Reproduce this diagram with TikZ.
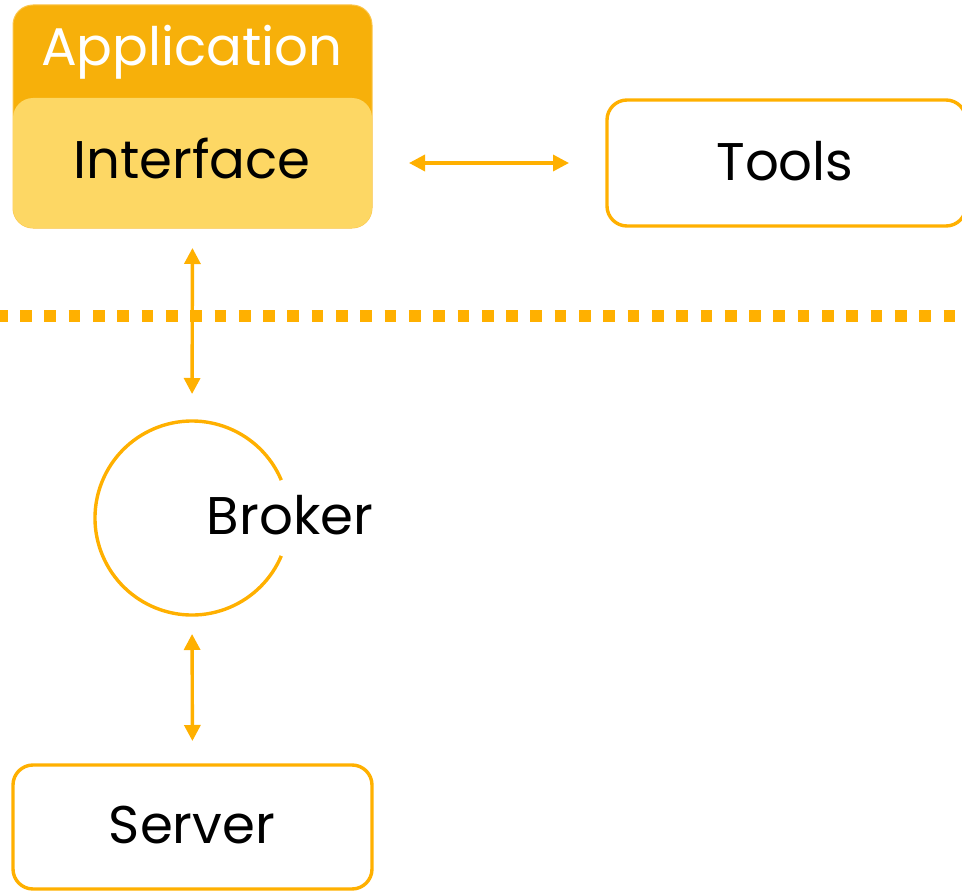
\documentclass[tikz,border=0pt]{standalone}
\usepackage{fontspec}
\setmainfont{Poppins}
\usetikzlibrary{arrows.meta}
\definecolor{appdark}{HTML}{F7B00A}
\definecolor{appborder}{HTML}{FBC54A}
\definecolor{ifacelight}{HTML}{FDD764}
\definecolor{orng}{HTML}{FFB000}
\tikzset{
  boxnode/.style={draw=orng, line width=3.4pt, rounded corners=20pt, fill=white, outer sep=0pt,
    minimum width=359pt, minimum height=126pt, inner sep=0pt},
  conn/.style={draw=orng, line width=3.4pt, {Triangle[length=16pt,width=16pt]}-{Triangle[length=16pt,width=16pt]}},
  lbl/.style={font=\fontsize{53}{60}\selectfont, inner sep=0pt}
}
\begin{document}
\begin{tikzpicture}[x=1pt,y=-1pt]
\useasboundingbox (0,0) rectangle (962,891);
% Application / Interface block
\node[draw=appborder, line width=1pt, fill=appdark, rounded corners=20pt, outer sep=0pt,
      minimum width=359pt, minimum height=223pt, inner sep=0pt, anchor=north west] (app) at (13,5) {};
\node[lbl, text=white, anchor=base] (apptext) at (192,66) {Application};
\node[fill=ifacelight, rounded corners=20pt, minimum width=359pt, minimum height=130pt, outer sep=0pt,
      inner sep=0pt, anchor=north west] (iface) at (13,98) {};
\node[lbl, anchor=base] (ifacetext) at (192,178) {Interface};
% Tools
\node[boxnode, anchor=north west] (tools) at (607,100) {};
\node[lbl, anchor=base] (toolstext) at (785,180) {Tools};
% Dotted separator
\coordinate (sepL) at (0,316);
\coordinate (sepR) at (962,316);
\draw[draw=orng, line width=11.7pt, dash pattern=on 11.7pt off 12.6pt, dash phase=4.2pt] (sepL) -- (sepR);
% Broker
\node[circle, minimum size=194pt, inner sep=0pt, outer sep=0pt] (broker) at (192,518) {};
\draw[draw=orng, line width=3.4pt] (broker.23) arc[start angle=23, end angle=337, radius=97pt];
\node[lbl, anchor=base] (brokertext) at (290,534) {Broker};
% Server
\node[boxnode, anchor=north west, minimum height=124pt] (server) at (13,765) {};
\node[lbl, anchor=base] (servertext) at (192,843) {Server};
% Connectors
\draw[conn, shorten <=37pt, shorten >=38pt] (iface.east) -- (tools.west);
\draw[conn, shorten <=20pt, shorten >=27pt] (iface.south) -- (broker.north);
\draw[conn, shorten <=19pt, shorten >=24pt] (broker.south) -- (server.north);
\end{tikzpicture}
\end{document}
